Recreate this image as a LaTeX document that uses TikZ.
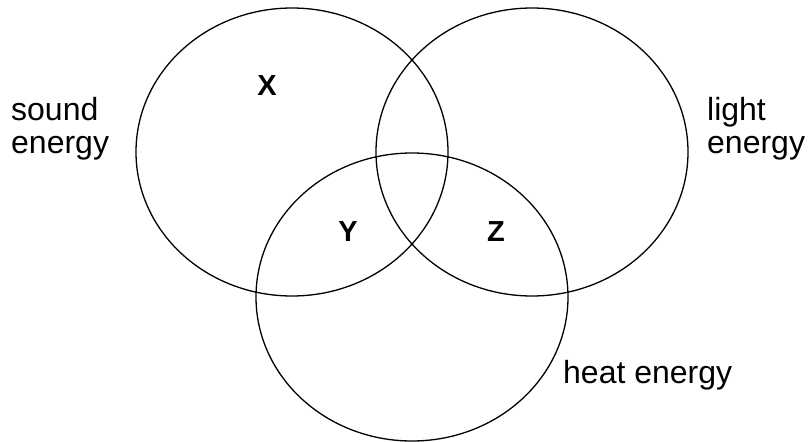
\documentclass[tikz,border=0pt]{standalone}
\usepackage{fontspec}
\setmainfont{Liberation Sans}
\begin{document}
\begin{tikzpicture}[x=1pt,y=-1pt,
  setline/.style={line width=1.3pt},
  lbl/.style={inner sep=0pt,align=left,font=\fontsize{32}{33}\selectfont},
  letter/.style={inner sep=0pt,font=\bfseries\fontsize{29}{32}\selectfont}]
\useasboundingbox (0,0) rectangle (809,442);
\draw[setline] (292,152) ellipse [x radius=156pt, y radius=144pt];
\draw[setline] (532,152) ellipse [x radius=156pt, y radius=144pt];
\draw[setline] (412,297) ellipse [x radius=156pt, y radius=144pt];
\node[lbl,anchor=west] (sound) at (11,129) {sound\\energy};
\node[lbl,anchor=west] (light) at (707,129) {light\\energy};
\node[lbl,anchor=base west] (heat) at (563,383) {heat energy};
\node[letter] (X) at (267,86) {X};
\node[letter] (Y) at (348,232) {Y};
\node[letter] (Z) at (496,232) {Z};
\end{tikzpicture}
\end{document}
